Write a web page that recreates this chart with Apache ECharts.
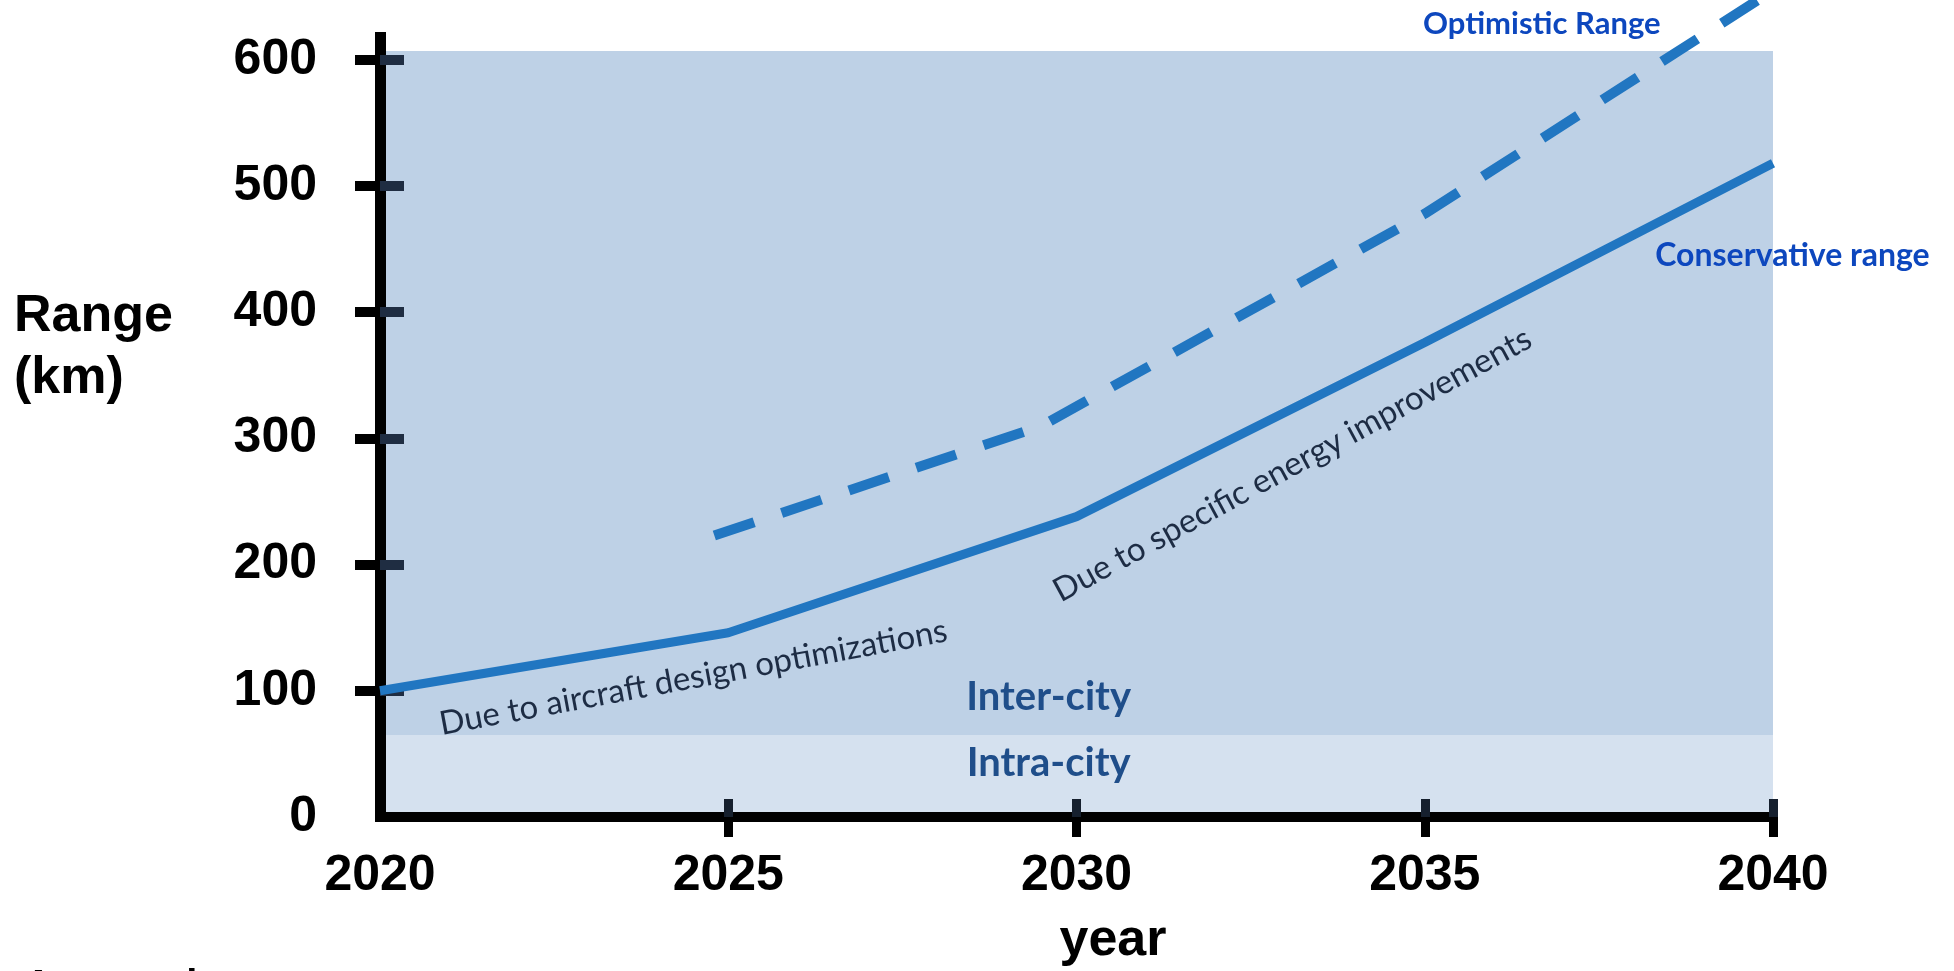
<!DOCTYPE html>
<html>
<head>
<meta charset="utf-8">
<script src="https://cdn.jsdelivr.net/npm/echarts@6/dist/echarts.min.js"></script>
<style>
html,body{margin:0;padding:0;background:#ffffff;}
#c{width:1954px;height:971px;}
</style>
</head>
<body>
<div id="c"></div>
<script>
// ---------------- data ----------------
const xTickLabels = [2020, 2025, 2030, 2035, 2040];
const yTickLabels = [0, 100, 200, 300, 400, 500, 600];
const conservativeYears = [2020, 2025, 2030, 2035, 2040];
const conservativeRange = [100, 146, 238, 376, 518];
const optimisticYears = [2024.8, 2029.5, 2035, 2040];
const optimisticRange = [223, 310, 478, 655];
const bandNames = ['Intra-city', 'Inter-city'];
const bandLow = [0, 65];
const bandHigh = [65, 607];
const seriesNames = ['Conservative range', 'Optimistic Range'];
const notes = ['Due to aircraft design optimizations', 'Due to specific energy improvements'];
const axisTitles = ['year', 'Range\n(km)'];
const footerText = 'Among the';

// ---------------- styling ----------------
const LINE = '#2176C1';
const AXFONT = 'Liberation Sans';
const BAND_COLORS = ['#D5E1EF', '#BED1E6'];
const yMax = 622;

function pairs(xs, ys) { return xs.map((x, i) => [x, ys[i]]); }

const chart = echarts.init(document.getElementById('c'), null, {renderer: 'canvas'});

const xMin = xTickLabels[0], xMax = xTickLabels[xTickLabels.length - 1];

const option = {
  animation: false,
  backgroundColor: '#ffffff',
  grid: {left: 380, right: 181, top: 32, bottom: 154},
  xAxis: [{
    type: 'value', min: xMin, max: xMax, position: 'bottom', z: 3,
    axisLine: {show: true, onZero: false, lineStyle: {color: '#000', width: 10, cap: 'square'}},
    axisTick: {show: true, length: 20, customValues: xTickLabels.slice(1), lineStyle: {color: '#000', width: 9}},
    axisLabel: {show: true, customValues: xTickLabels, margin: 34, color: '#000',
      fontFamily: AXFONT, fontWeight: 'bold', fontSize: 50, formatter: v => String(v)},
    splitLine: {show: false}
  }, {
    type: 'value', min: xMin, max: xMax, position: 'bottom', offset: 0, z: 3,
    axisLine: {show: false},
    axisTick: {show: true, inside: true, length: 18, customValues: xTickLabels.slice(1), lineStyle: {color: '#16202e', width: 9}},
    axisLabel: {show: false},
    splitLine: {show: false}
  }],
  yAxis: [{
    type: 'value', min: 0, max: yMax, position: 'left', z: 3,
    axisLine: {show: true, onZero: false, lineStyle: {color: '#000', width: 11, cap: 'butt'}},
    axisTick: {show: true, length: 25, customValues: yTickLabels.slice(1), lineStyle: {color: '#000', width: 10}},
    axisLabel: {show: true, customValues: yTickLabels, margin: 63, color: '#000',
      fontFamily: AXFONT, fontWeight: 'bold', fontSize: 50,
      formatter: v => (yTickLabels.indexOf(v) >= 0 ? String(v) : '')},
    splitLine: {show: false}
  }, {
    type: 'value', min: 0, max: yMax, position: 'left', offset: 0, z: 3,
    axisLine: {show: false},
    axisTick: {show: true, inside: true, length: 24, customValues: yTickLabels.slice(1), lineStyle: {color: '#1f2d42', width: 10}},
    axisLabel: {show: false},
    splitLine: {show: false}
  }],
  series: [{
    name: seriesNames[0], type: 'line', xAxisIndex: 0, yAxisIndex: 0,
    data: pairs(conservativeYears, conservativeRange),
    symbol: 'none', z: 5,
    lineStyle: {color: LINE, width: 9, cap: 'butt'},
    markArea: {
      silent: true, z: 1,
      data: bandNames.map((n, i) => [
        {name: n, xAxis: xMin, yAxis: bandLow[i], itemStyle: {color: BAND_COLORS[i]}},
        {xAxis: xMax, yAxis: bandHigh[i]}
      ]),
      label: {show: false}
    }
  }, {
    name: seriesNames[1], type: 'line', xAxisIndex: 0, yAxisIndex: 0,
    data: pairs(optimisticYears, optimisticRange),
    symbol: 'none', z: 5, clip: false,
    lineStyle: {color: LINE, width: 10, type: [42, 29], cap: 'butt'}
  }]
};

chart.setOption(option);

// annotation anchors (data coordinates) — layout only
const annotations = [
  {text: notes[0], at: [2024.5, 110.5], rot: 10.5, font: '33px Lato', fill: '#1d2c44', align: 'center'},
  {text: notes[1], at: [2033.1, 279], rot: 28.5, font: '33px Lato', fill: '#1d2c44', align: 'center'},
  {text: bandNames[1], at: [2029.6, 94.7], rot: 0, font: 'bold 40px Lato', fill: '#1F4E8A', align: 'center'},
  {text: bandNames[0], at: [2029.6, 42.4], rot: 0, font: 'bold 40px Lato', fill: '#1F4E8A', align: 'center'},
  {text: seriesNames[0], at: [2038.31, 445], rot: 0, font: 'bold 32px Lato', fill: '#0D47BE', align: 'left'},
  {text: seriesNames[1], at: [2036.68, 628], rot: 0, font: 'bold 31px Lato', fill: '#0D47BE', align: 'center'}
];

const graphics = annotations.map(a => {
  const p = chart.convertToPixel({xAxisIndex: 0, yAxisIndex: 0}, a.at);
  return {
    type: 'text', x: p[0], y: p[1], rotation: a.rot * Math.PI / 180, z: 10, silent: true,
    style: {text: a.text, font: a.font, fill: a.fill, align: a.align, verticalAlign: 'middle'}
  };
});

graphics.push({
  type: 'text', x: 14, y: 286, z: 10, silent: true,
  style: {text: axisTitles[1], font: 'bold 52px "Liberation Sans"', lineHeight: 62, fill: '#000', align: 'left', verticalAlign: 'top'}
});
graphics.push({
  type: 'text', x: 1113, y: 941, z: 10, silent: true,
  style: {text: axisTitles[0], font: 'bold 52px "Liberation Sans"', fill: '#000', align: 'center', verticalAlign: 'middle'}
});
graphics.push({
  type: 'text', x: 24, y: 987, z: 10, silent: true,
  style: {text: footerText, font: 'bold 40px "Liberation Sans"', fill: '#000', align: 'left', verticalAlign: 'middle'}
});

chart.setOption({graphic: graphics});
</script>
</body>
</html>
